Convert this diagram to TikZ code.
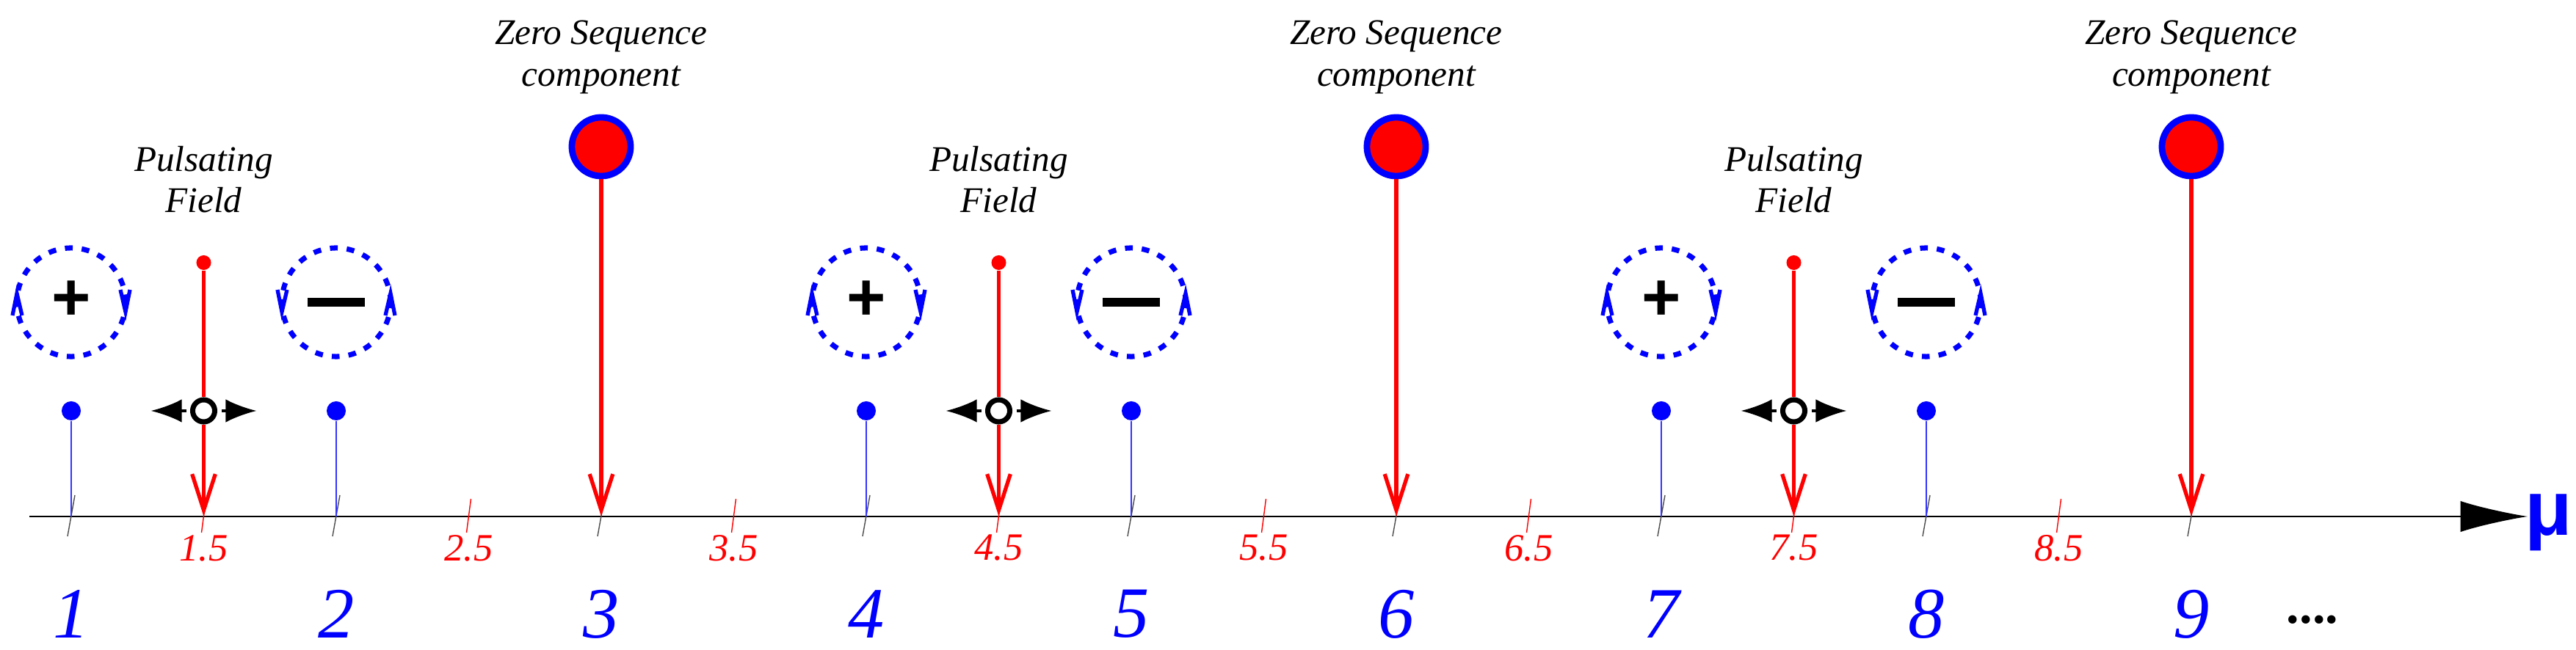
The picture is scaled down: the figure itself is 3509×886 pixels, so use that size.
\documentclass[tikz,border=0pt]{standalone}
\usepackage{fontspec}
\setmainfont{Liberation Serif}
\newfontfamily\sansf{Liberation Sans}
\usetikzlibrary{arrows.meta}
\begin{document}
\begin{tikzpicture}[x=0.01cm,y=-0.01cm,
  lbl/.style={font=\fontsize{14}{16}\selectfont\itshape,align=center},
  num/.style={font=\fontsize{28}{30}\selectfont\itshape,text=blue},
  half/.style={font=\fontsize{15}{16}\selectfont\itshape,text=red},
  rot/.style={draw=blue,line width=2pt,dash pattern=on 3pt off 3.5pt,circle,minimum size=14.8mm,inner sep=0},
  sign/.style={font=\sansf\bfseries\fontsize{26}{26}\selectfont},
  zs/.style={circle,draw=blue,fill=red,line width=2.5pt,minimum size=8mm,inner sep=0},
  redarr/.style={red,line width=1.5pt,-{Straight Barb[length=14pt,width=9pt,line width=1.5pt]}},
  tick/.style={line width=0.4pt}]
\useasboundingbox (0,0) rectangle (3509,886);
\coordinate (a0) at (40,704);
\coordinate (a1) at (3443,704);
\draw[line width=0.5pt,-{Latex[length=26pt,width=12pt]}] (a0) -- (a1);
\node[font=\sansf\bfseries\fontsize{30}{30}\selectfont,text=blue,inner sep=0] (mu) at (3472,712) {μ};
\foreach \n in {1,...,9}{
  \pgfmathsetmacro\xx{97+(\n-1)*361}
  \draw[tick,black!70] (\xx+5,675) -- (\xx-5,731);
  \node[num] (n\n) at (\xx,837) {\n};
}
\foreach \h in {1.5,2.5,3.5,4.5,5.5,6.5,7.5,8.5}{
  \pgfmathsetmacro\xx{97+(\h-1)*361}
  \draw[tick,red] (\xx+3,680) -- (\xx-3,726);
  \node[half] at (\xx,747) {\h};
}
\node[font=\fontsize{20}{20}\selectfont\bfseries] (dots) at (3150,845) {....};
\foreach \k in {0,1,2}{
  \pgfmathsetmacro\p{97+3*\k*361}
  \pgfmathsetmacro\m{\p+361}
  \pgfmathsetmacro\c{\p+180.5}
  \pgfmathsetmacro\z{\p+722}
  \node[circle,fill=blue,minimum size=2.6mm,inner sep=0] (bp\k) at (\p,560) {};
  \node[circle,fill=blue,minimum size=2.6mm,inner sep=0] (bm\k) at (\m,560) {};
  \draw[blue!80,line width=0.6pt] (bp\k) -- (\p,704);
  \draw[blue!80,line width=0.6pt] (bm\k) -- (\m,704);
  \node[rot] (rp\k) at (\p,412) {};
  \node[sign] at (\p,410) {+};
  \draw[blue,line width=1.5pt] (\p-80,430) -- (\p-74,400) -- (\p-67,430);
  \draw[blue,line width=1.5pt] (\p+67,395) -- (\p+74,425) -- (\p+80,395);
  \node[rot] (rm\k) at (\m,412) {};
  \node[sign] at (\m,412) {\rule{22pt}{3.5pt}};
  \draw[blue,line width=1.5pt] (\m-80,395) -- (\m-74,425) -- (\m-67,395);
  \draw[blue,line width=1.5pt] (\m+67,430) -- (\m+74,400) -- (\m+80,430);
  \node[lbl] (pf\k) at (\c,245) {Pulsating\\Field};
  \node[circle,fill=red,minimum size=2mm,inner sep=0] (pt\k) at (\c,358) {};
  \node[circle,draw=black,line width=2pt,fill=white,minimum size=3mm,inner sep=0] (pc\k) at (\c,560) {};
  \draw[red,line width=1.5pt] (pt\k) -- (pc\k);
  \draw[redarr] (pc\k) -- (\c,704);
  \draw[line width=1pt,-{Latex[length=12pt,width=9pt]}] (\c-24,560) -- (\c-72,560);
  \draw[line width=1pt,-{Latex[length=12pt,width=9pt]}] (\c+24,560) -- (\c+72,560);
  \node[lbl] (zl\k) at (\z,78) {Zero Sequence\\component};
  \node[zs] (zc\k) at (\z,200) {};
  \draw[redarr] (zc\k) -- (\z,704);
}
\end{tikzpicture}
\end{document}
